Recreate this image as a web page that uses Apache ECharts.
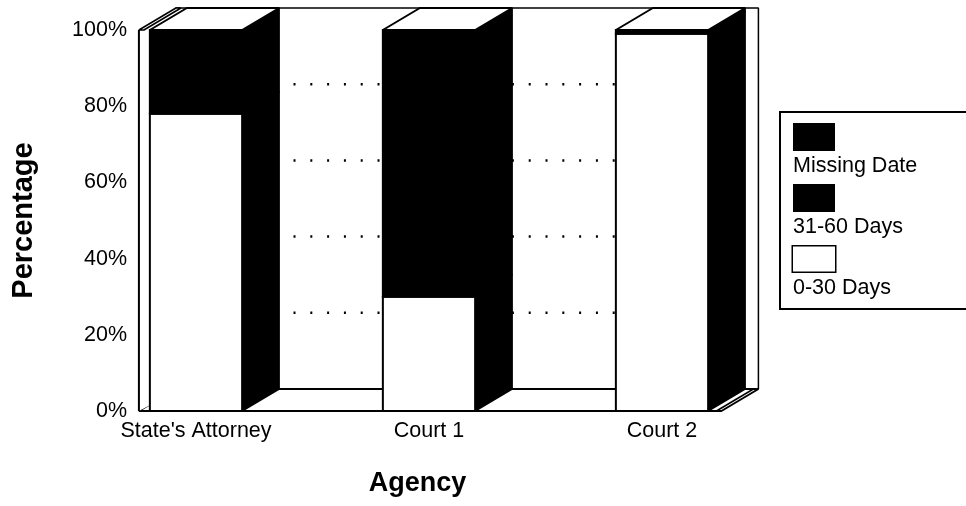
<!DOCTYPE html>
<html>
<head>
<meta charset="utf-8">
<script src="https://cdn.jsdelivr.net/npm/echarts@6/dist/echarts.min.js"></script>
<style>
  html, body { margin: 0; padding: 0; background: #fff; }
  #chart { width: 966px; height: 506px; }
</style>
</head>
<body>
<div id="chart"></div>
<script>
// Share of cases by time to disposition, per agency (percent)
const categories = ["State's Attorney", 'Court 1', 'Court 2'];
const days0to30 = [78, 30, 99];
const days31to60 = [22, 70, 0];
const missingDate = [0, 0, 1];
const seriesNames = ['0-30 Days', '31-60 Days', 'Missing Date'];
const legendOrder = ['Missing Date', '31-60 Days', '0-30 Days'];
const percentMax = 100;
const percentStep = 20;
const backGridPercents = [20, 40, 60, 80];

// Drawing style
const FONT = "'Liberation Sans', Arial, Helvetica, sans-serif";
const INK = '#000';
const PAPER = '#fff';
const DX = 37;            // depth offset, horizontal (px)
const DY = -22;           // depth offset, vertical (px)
const BAR_HALF = 0.198;   // half bar width, in category steps
const FRAME_LEFT = -0.245;  // floor / wall extents, in category steps
const FRAME_RIGHT = 2.255;
const WALL = 5;           // thickness of the left wall slab (px)

function renderFrame(params, api) {
  const o = api.coord([0, 0]);
  const unit = api.coord([1, 0])[0] - o[0];
  const yB = o[1];
  const yT = api.coord([0, percentMax])[1];
  const xL = o[0] + unit * FRAME_LEFT;
  const xR = o[0] + unit * FRAME_RIGHT;
  const children = [];

  // back wall
  children.push({
    type: 'polygon',
    shape: { points: [[xL + DX, yT + DY], [xR + DX, yT + DY], [xR + DX, yB + DY], [xL + DX, yB + DY]] },
    style: { fill: PAPER, stroke: INK, lineWidth: 1.5, lineJoin: 'bevel' }
  });
  // dotted gridlines on the back wall
  backGridPercents.forEach(function (p) {
    const y = api.coord([0, p])[1] + DY;
    children.push({
      type: 'line',
      shape: { x1: xL + DX, y1: y, x2: xR + DX - 14, y2: y },
      style: { stroke: INK, lineWidth: 2.5, lineDash: [2, 14.8] }
    });
  });
  // floor
  children.push({
    type: 'polygon',
    shape: { points: [[xL, yB], [xR, yB], [xR + DX, yB + DY], [xL + DX, yB + DY]] },
    style: { fill: PAPER, stroke: INK, lineWidth: 2, lineJoin: 'bevel' }
  });
  children.push({
    type: 'line',
    shape: { x1: xR - 5, y1: yB, x2: xR - 5 + DX, y2: yB + DY },
    style: { stroke: INK, lineWidth: 1.5 }
  });
  // left wall slab: inner face, top edge, front edge
  children.push({
    type: 'polygon',
    shape: { points: [[xL, yT], [xL + WALL + DX, yT + DY], [xL + WALL + DX, yB + DY], [xL, yB]] },
    style: { fill: PAPER }
  });
  children.push({
    type: 'polygon',
    shape: { points: [[xL, yT], [xL + WALL, yT], [xL + WALL + DX, yT + DY], [xL + DX, yT + DY]] },
    style: { fill: PAPER, stroke: INK, lineWidth: 1.5, lineJoin: 'bevel' }
  });
  children.push({
    type: 'line',
    shape: { x1: xL, y1: yT, x2: xL, y2: yB },
    style: { stroke: INK, lineWidth: 2 }
  });
  return { type: 'group', children: children };
}

function makeBarRenderer(faceFill) {
  return function (params, api) {
    const i = api.value(0);
    const v = api.value(1);
    const base = api.value(2);
    if (!(v > 0)) return { type: 'group', children: [] };
    const pB = api.coord([i, base]);
    const pT = api.coord([i, base + v]);
    const unit = api.coord([1, 0])[0] - api.coord([0, 0])[0];
    const h = unit * BAR_HALF;
    const xl = pB[0] - h, xr = pB[0] + h, yb = pB[1], yt = pT[1];
    return {
      type: 'group',
      children: [
        { // side face
          type: 'polygon',
          shape: { points: [[xr, yb], [xr, yt], [xr + DX, yt + DY], [xr + DX, yb + DY]] },
          style: { fill: INK, stroke: INK, lineWidth: 1.5, lineJoin: 'bevel' }
        },
        { // top face
          type: 'polygon',
          shape: { points: [[xl, yt], [xr, yt], [xr + DX, yt + DY], [xl + DX, yt + DY]] },
          style: { fill: PAPER, stroke: INK, lineWidth: 2, lineJoin: 'bevel' }
        },
        { // front face
          type: 'rect',
          shape: { x: xl, y: yt, width: xr - xl, height: yb - yt },
          style: { fill: faceFill, stroke: INK, lineWidth: 2 }
        }
      ]
    };
  };
}

const stacks = [days0to30, days31to60, missingDate];
const faceFills = [PAPER, INK, INK];

const barSeries = stacks.map(function (vals, s) {
  return {
    type: 'custom',
    name: seriesNames[s],
    renderItem: makeBarRenderer(faceFills[s]),
    data: vals.map(function (v, i) {
      let base = 0;
      for (let k = 0; k < s; k++) base += stacks[k][i];
      return [i, v, base];
    }),
    encode: { x: 0, y: 1 },
    clip: false,
    itemStyle: { color: faceFills[s] },
    silent: true
  };
});

const chart = echarts.init(document.getElementById('chart'), null, { renderer: 'canvas' });
chart.setOption({
  animation: false,
  backgroundColor: PAPER,
  textStyle: { fontFamily: FONT },
  grid: { left: 196, right: 304, top: 30, bottom: 95 },
  xAxis: {
    type: 'category',
    data: categories,
    boundaryGap: false,
    axisLine: { show: false },
    axisTick: { show: false },
    splitLine: { show: false },
    axisLabel: { color: INK, fontSize: 21.5, fontFamily: FONT, margin: 9 },
    name: 'Agency',
    nameLocation: 'middle',
    nameGap: 59,
    nameTextStyle: { fontSize: 27, fontWeight: 'bold', fontFamily: FONT, color: INK, padding: [0, 23, 0, 0] }
  },
  yAxis: {
    type: 'value',
    min: 0,
    max: percentMax,
    interval: percentStep,
    offset: 57,
    axisLine: { show: false },
    axisTick: { show: false },
    splitLine: { show: false },
    axisLabel: { formatter: '{value}%', color: INK, fontSize: 21.5, fontFamily: FONT, margin: 12 },
    name: 'Percentage',
    nameLocation: 'middle',
    nameGap: 101,
    nameTextStyle: { fontSize: 29, fontWeight: 'bold', fontFamily: FONT, color: INK }
  },
  legend: {
    orient: 'vertical',
    left: 780,
    top: 112,
    padding: [9, 120, 8, 8],
    itemGap: 3,
    itemWidth: 0,
    itemHeight: 58,
    borderColor: INK,
    borderWidth: 2,
    selectedMode: false,
    data: legendOrder,
    formatter: function (name) {
      const box = name === '0-30 Days' ? 'boxW' : 'boxK';
      return '{' + box + '|}\n{txt|' + name + '}';
    },
    textStyle: {
      rich: {
        boxK: { width: 42, height: 28, lineHeight: 32, backgroundColor: INK },
        boxW: { width: 42, height: 25, lineHeight: 32, backgroundColor: PAPER, borderColor: INK, borderWidth: 1.5 },
        txt: { fontSize: 21.5, fontFamily: FONT, color: INK, lineHeight: 26 }
      }
    }
  },
  series: [{
    type: 'custom',
    name: 'frame',
    renderItem: renderFrame,
    data: [[0, 0]],
    encode: { x: 0, y: 1 },
    clip: false,
    silent: true
  }].concat(barSeries)
});
</script>
</body>
</html>
